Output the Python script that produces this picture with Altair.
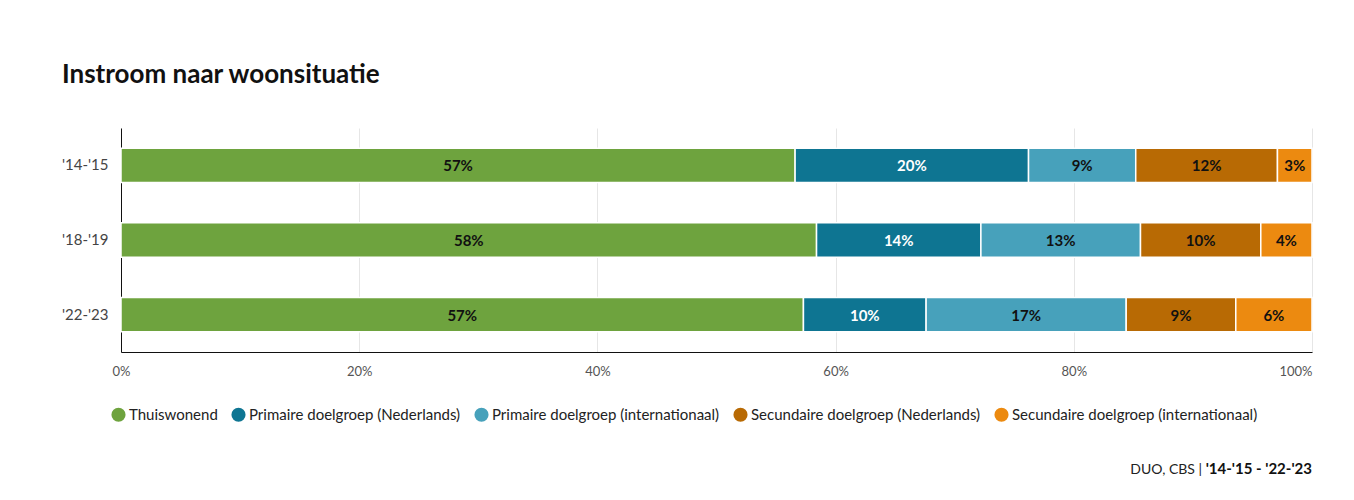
import altair as alt
import pandas as pd

years = ["'14-'15", "'18-'19", "'22-'23"]
categories = [
    "Thuiswonend",
    "Primaire doelgroep (Nederlands)",
    "Primaire doelgroep (internationaal)",
    "Secundaire doelgroep (Nederlands)",
    "Secundaire doelgroep (internationaal)",
]
colors = ["#6ea33e", "#0e7592", "#47a1bb", "#b86a04", "#ec8a10"]

thuiswonend = [56.6, 58.4, 57.3]
primaire_nl = [19.6, 13.8, 10.3]
primaire_int = [9.0, 13.4, 16.8]
secundaire_nl = [11.9, 10.1, 9.2]
secundaire_int = [2.9, 4.3, 6.4]

series = [thuiswonend, primaire_nl, primaire_int, secundaire_nl, secundaire_int]
rows = []
for ci, (cat, vals) in enumerate(zip(categories, series)):
    for yi, (yr, v) in enumerate(zip(years, vals)):
        rows.append({"year": yr, "category": cat, "order": ci, "value": v / 100.0})
df = pd.DataFrame(rows)

FONT = "Lato"
W, H = 1191, 224

base = alt.Chart(df).transform_stack(
    stack="value", groupby=["year"], as_=["x0", "x1"], sort=[alt.SortField("order")]
).transform_calculate(
    mid="(datum.x0 + datum.x1) / 2",
    label="format(datum.value, '.0%')",
)

yenc = alt.Y(
    "year:N",
    sort=years,
    title=None,
    scale=alt.Scale(paddingInner=0.54, paddingOuter=0.27),
    axis=alt.Axis(
        domainColor="#111", domainWidth=1, ticks=False, labelFontSize=15,
        labelColor="#444", labelPadding=13, labelFont=FONT, grid=False,
    ),
)

bars = base.mark_bar(stroke="white", strokeWidth=1.5).encode(
    x=alt.X(
        "x0:Q",
        scale=alt.Scale(domain=[0, 1], nice=False),
        title=None,
        axis=alt.Axis(
            format=".0%", values=[0, 0.2, 0.4, 0.6, 0.8, 1.0], grid=True,
            gridColor="#e6e6e6", domainColor="#111", ticks=False,
            labelFontSize=13, labelColor="#555", labelPadding=13, labelFont=FONT,
            labelAlign={"condition": {"test": "datum.value === 1", "value": "right"}, "value": "center"},
        ),
    ),
    x2="x1:Q",
    y=yenc,
    color=alt.Color(
        "category:N",
        scale=alt.Scale(domain=categories, range=colors),
        legend=alt.Legend(
            title=None, orient="none", direction="horizontal", legendX=-10, legendY=279,
            symbolType="circle", symbolSize=200, symbolStrokeWidth=0, symbolOpacity=1,
            labelFontSize=15, labelColor="#222", labelFont=FONT, columnPadding=13,
            labelOffset=3, labelLimit=0,
        ),
    ),
)

texts = base.mark_text(fontSize=15, fontWeight="bold", font=FONT, dy=1).encode(
    x=alt.X("mid:Q"),
    y=alt.Y("year:N", sort=years),
    text="label:N",
    color=alt.condition(
        alt.datum.category == "Primaire doelgroep (Nederlands)",
        alt.value("white"),
        alt.value("#111"),
    ),
)

src_bold = alt.Chart(pd.DataFrame({"t": ["'14-'15 - '22-'23"]})).mark_text(
    align="right", baseline="alphabetic", fontSize=15, fontWeight="bold", font=FONT, color="#111"
).encode(x=alt.value(W), y=alt.value(346), text="t:N")

src_norm = alt.Chart(pd.DataFrame({"t": ["DUO, CBS |"]})).mark_text(
    align="right", baseline="alphabetic", fontSize=14, font=FONT, color="#222"
).encode(x=alt.value(W - 110), y=alt.value(346), text="t:N")

chart = alt.layer(bars, texts, src_bold, src_norm).properties(
    width=W,
    height=H,
    background="white",
    title=alt.Title(
        "Instroom naar woonsituatie", anchor="start", frame="group", dx=-59,
        fontSize=26, fontWeight="bold", font=FONT, color="#111", offset=40,
    ),
    autosize=alt.AutoSizeParams(type="none"),
    padding={"left": 113, "top": 120, "right": 34, "bottom": 140},
).configure_view(stroke=None)

chart.save("out.html", embed_options={"renderer": "svg", "actions": False})
